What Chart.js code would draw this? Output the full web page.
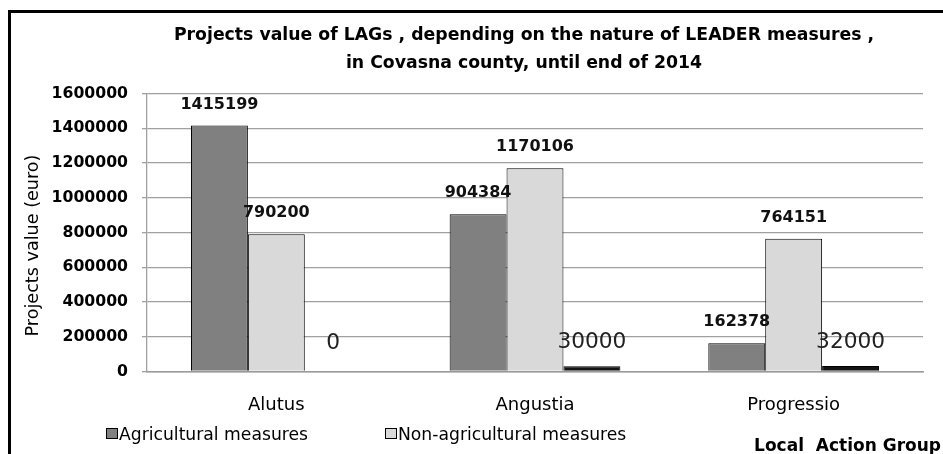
<!DOCTYPE html>
<html><head><meta charset="utf-8">
<script src="https://cdn.jsdelivr.net/npm/chart.js@4.4.1/dist/chart.umd.min.js"></script>
<style>
html,body{margin:0;padding:0;background:#fff;overflow:hidden;width:943px;height:454px}
#frame{position:absolute;left:8px;top:10px;width:1000px;height:500px;border:3px solid #000;box-sizing:border-box}
#wrap{position:absolute;left:0;top:0;width:943px;height:454px}
</style></head><body>
<div id="frame"></div>
<div id="wrap"><canvas id="c" width="943" height="454"></canvas></div>
<script>
// ---- data ----
const categories = ['Alutus', 'Angustia', 'Progressio'];
const agricultural = [1415199, 904384, 162378];
const nonAgricultural = [790200, 1170106, 764151];
const thirdSeries = [0, 30000, 32000];
const seriesNames = ['Agricultural measures', 'Non-agricultural measures', ''];
const yTicks = [0, 200000, 400000, 600000, 800000, 1000000, 1200000, 1400000, 1600000];
const titleLines = ['Projects value of LAGs , depending on the nature of LEADER measures ,', 'in Covasna county, until end of 2014'];
const yAxisTitle = 'Projects value (euro)';
const xAxisTitle = 'Local  Action Group';

const FONT = '"DejaVu Sans", sans-serif';
const colors = ['#808080', '#d9d9d9', '#141414'];

const decor = {
  id: 'decor',
  afterDraw(chart) {
    const ctx = chart.ctx;
    ctx.save();
    // title
    ctx.fillStyle = '#000';
    ctx.textAlign = 'center';
    ctx.textBaseline = 'alphabetic';
    ctx.font = 'bold 17.3px ' + FONT;
    ctx.fillText(titleLines[0], 524, 40);
    ctx.fillText(titleLines[1], 524, 68);
    // y axis title
    ctx.save();
    ctx.translate(38, 245.5);
    ctx.rotate(-Math.PI / 2);
    ctx.font = '17.6px ' + FONT;
    ctx.fillText(yAxisTitle, 0, 0);
    ctx.restore();
    // x axis title
    ctx.textAlign = 'right';
    ctx.font = 'bold 17px ' + FONT;
    ctx.fillText(xAxisTitle, 941, 451);
    // legend (first two series)
    const legendX = [106, 385];
    ctx.textAlign = 'left';
    ctx.font = '17.2px ' + FONT;
    for (let i = 0; i < 2; i++) {
      const ds = chart.data.datasets[i];
      ctx.fillStyle = ds.backgroundColor;
      ctx.fillRect(legendX[i], 428, 12, 11);
      ctx.strokeStyle = '#000';
      ctx.lineWidth = 1;
      ctx.strokeRect(legendX[i] + 0.5, 428.5, 11, 10);
      ctx.fillStyle = '#000';
      ctx.fillText(ds.label, legendX[i] + 13, 440);
    }
    // data labels
    chart.data.datasets.forEach((ds, i) => {
      const meta = chart.getDatasetMeta(i);
      meta.data.forEach((bar, j) => {
        const v = ds.data[j];
        ctx.textAlign = 'center';
        if (i < 2) {
          ctx.font = 'bold 16px ' + FONT;
          ctx.fillStyle = '#111';
          ctx.fillText(String(v), bar.x, bar.y - 17);
        } else {
          ctx.font = '21.7px ' + FONT;
          ctx.fillStyle = '#222';
          ctx.fillText(String(v), bar.x, Math.min(bar.y, bar.base - 5) - 18);
        }
      });
    });
    ctx.restore();
  }
};

new Chart(document.getElementById('c'), {
  type: 'bar',
  data: {
    labels: categories,
    datasets: [
      { label: seriesNames[0], data: agricultural, backgroundColor: colors[0], borderColor: '#000', borderWidth: 1 },
      { label: seriesNames[1], data: nonAgricultural, backgroundColor: colors[1], borderColor: '#000', borderWidth: 1 },
      { label: seriesNames[2], data: thirdSeries, backgroundColor: colors[2], borderColor: '#000', borderWidth: 1 }
    ]
  },
  options: {
    responsive: false,
    animation: false,
    devicePixelRatio: 1,
    datasets: { bar: { categoryPercentage: 0.66, barPercentage: 1.0 } },
    layout: { padding: { left: 0, right: 20, top: 93.5, bottom: 0 } },
    plugins: { legend: { display: false }, title: { display: false }, tooltip: { enabled: false } },
    scales: {
      x: {
        grid: { display: false },
        border: { display: true, color: '#9a9a9a', width: 1.5 },
        ticks: { color: '#000', font: { family: FONT, size: 18 }, padding: 15 },
        afterFit(scale) { scale.height = 82.5; }
      },
      y: {
        min: 0, max: 1600000,
        afterBuildTicks(scale) { scale.ticks = yTicks.map(v => ({ value: v })); },
        grid: { color: '#a0a0a0', lineWidth: 1.3, tickLength: 5 },
        border: { display: true, color: '#a0a0a0', width: 1.3 },
        ticks: {
          color: '#000', padding: 14,
          font: { family: FONT, size: 15.7, weight: 'bold' },
          callback: (v) => String(v)
        },
        afterFit(scale) { scale.width = 147; }
      }
    }
  },
  plugins: [decor]
});
</script>
</body></html>
